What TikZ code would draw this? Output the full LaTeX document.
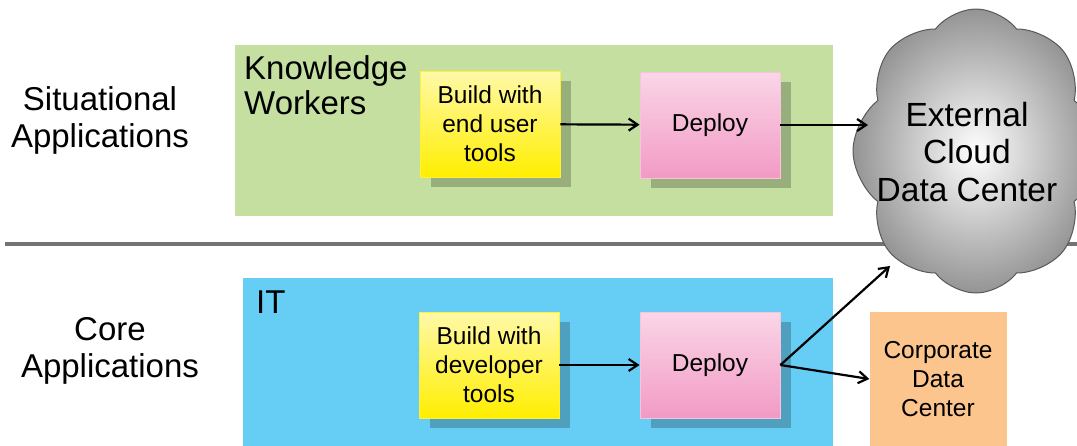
\documentclass[tikz,border=0pt]{standalone}
\usepackage{fontspec}
\setmainfont{Liberation Sans}
\usetikzlibrary{arrows.meta,shapes.symbols,shadows}
\definecolor{bggreen}{HTML}{C4DFA0}
\definecolor{bgblue}{HTML}{66CDF5}
\definecolor{orangebox}{HTML}{FBC58D}
\definecolor{ytop}{HTML}{FFF9A8}
\definecolor{ybot}{HTML}{FFEE00}
\definecolor{ptop}{HTML}{FAD6E8}
\definecolor{pbot}{HTML}{F29AC4}
\tikzset{
  lane/.style={draw=none, inner sep=0pt},
  shadowed/.style={drop shadow={shadow xshift=11pt, shadow yshift=-10pt, fill=black, opacity=0.22}},
  buildbox/.style={shadowed, draw=ybot!80!white, line width=0.8pt, top color=ytop, bottom color=ybot,
    minimum width=140pt, minimum height=106pt, align=center, font=\fontsize{24.5}{29}\selectfont, inner sep=0pt},
  deploybox/.style={shadowed, draw=ptop!70!pbot, line width=0.8pt, top color=ptop, bottom color=pbot,
    minimum width=140pt, minimum height=106pt, align=center, font=\fontsize{24.5}{29}\selectfont, inner sep=0pt},
  lbl/.style={align=center, font=\fontsize{33}{37}\selectfont, inner sep=0pt},
  flow/.style={-{Straight Barb[length=9pt,width=12pt]}, line width=2.2pt, black},
}
\begin{document}
\begin{tikzpicture}[x=1pt,y=-1pt]
\useasboundingbox (0,0) rectangle (1077,445);
\fill[white] (0,0) rectangle (1077,445);
% lanes
\node[lane, fill=bggreen, minimum width=598pt, minimum height=171pt] (kwlane) at (534,130.5) {};
\node[lane, fill=bgblue, minimum width=590pt, minimum height=170pt] (itlane) at (538,363) {};
% separator
\draw[line width=4pt, color=black!55] (5,244) -- (1077,244);
% lane labels
\node[lbl, anchor=north west, align=left, font=\fontsize{33}{35}\selectfont] (kw) at (244,55) {Knowledge\\Workers};
\node[lbl, anchor=north west] (it) at (256,291) {IT};
\node[lbl] (sit) at (100,120) {Situational\\Applications};
\node[lbl] (core) at (110,351) {Core\\Applications};
% boxes
\node[buildbox] (b1) at (490,124) {Build with\\end user\\tools};
\node[deploybox] (d1) at (710,125) {Deploy};
\node[buildbox] (b2) at (489,365) {Build with\\developer\\tools};
\node[deploybox] (d2) at (710,365) {Deploy};
% cloud
\node[cloud, cloud puffs=8, cloud puff arc=105, aspect=0.75, draw=black!65, line width=1pt,
  inner color=white, outer color=black!42, minimum width=246pt, minimum height=284pt,
  inner sep=0pt] (cloud) at (976,151) {};
\node[align=center, font=\fontsize{33.5}{37.5}\selectfont, inner sep=0pt] (cloudtext) at (967,152)
  {External\\Cloud\\Data Center};
% corporate
\node[fill=orangebox, minimum width=137pt, minimum height=135pt, align=center,
  font=\fontsize{24.5}{29}\selectfont, inner sep=0pt] (corp) at (938,379) {Corporate\\Data\\Center};
% arrows
\coordinate (cin1) at (868,125);
\coordinate (cin2) at (890,266);
\draw[flow] (b1) -- (d1);
\draw[flow] (d1.east) -- (cin1);
\draw[flow] (b2) -- (d2);
\draw[flow] (d2.east) -- (cin2);
\draw[flow] (d2.east) -- (corp.west |- 0,379);
\end{tikzpicture}
\end{document}
